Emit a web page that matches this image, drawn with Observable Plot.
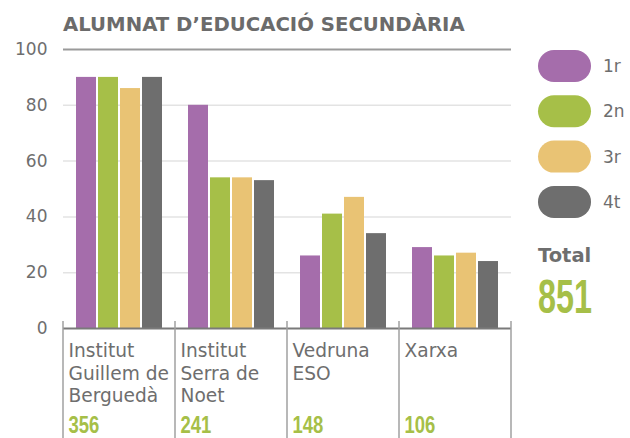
<!DOCTYPE html>
<html><head><meta charset="utf-8">
<script src="https://cdn.jsdelivr.net/npm/d3@7"></script>
<script src="https://cdn.jsdelivr.net/npm/@observablehq/plot@0.6"></script>
<style>
body{margin:0;background:#fff;}
#wrap{position:relative;width:630px;height:438px;overflow:hidden;}
#wrap svg{position:absolute;left:0;top:0;}
</style></head><body><div id="wrap"></div>
<script>
const categories = ["Institut Guillem de Berguedà","Institut Serra de Noet","Vedruna ESO","Xarxa"];
const categoryLabels = ["Institut\nGuillem de\nBerguedà","Institut\nSerra de\nNoet","Vedruna\nESO","Xarxa"];
const years = ["1r","2n","3r","4t"];
const values1r = [90,80,26,29];
const values2n = [90,54,41,26];
const values3r = [86,54,47,27];
const values4t = [90,53,34,24];
const totals = [356,241,148,106];
const grandTotal = 851;
const yTicks = [0,20,40,60,80,100];
const colors = ["#a56dab","#a6bf48","#e9c374","#6e6e6e"];
const title = "ALUMNAT D\u2019EDUCACIÓ SECUNDÀRIA";
const totalLabel = "Total";

const series = [values1r, values2n, values3r, values4t];
const rows = [];
categories.forEach((c, i) => years.forEach((y, j) => rows.push({cat: c, year: y, value: series[j][i]})));
const catRows = categories.map((c, i) => ({cat: c, label: categoryLabels[i], total: totals[i]}));

const textGray = "#6e6e6e";
const green = colors[1];
const numFont = "'Liberation Sans',Arial,sans-serif";

const plot = Plot.plot({
  width: 630, height: 438,
  marginLeft: 63, marginRight: 119, marginTop: 49, marginBottom: 110,
  style: {fontFamily: "DejaVu Sans", fontSize: "17px", color: textGray, background: "transparent"},
  fx: {domain: categories, padding: 0, axis: null, label: null},
  x: {domain: years, paddingInner: 0.07, paddingOuter: 0.55, axis: null},
  y: {domain: [0, 100], axis: null},
  color: {domain: years, range: colors},
  marks: [
    Plot.ruleY(yTicks.filter(t => t > 0 && t < 100), {stroke: "#e3e3e3", strokeWidth: 1.5}),
    Plot.ruleY(yTicks.filter(t => t === 100), {stroke: "#9a9a9a", strokeWidth: 2}),
    Plot.barY(rows, {fx: "cat", x: "year", y: "value", fill: "year"}),
    Plot.ruleY([0], {stroke: "#7a7a7a", strokeWidth: 2}),
    Plot.axisY({ticks: yTicks, tickSize: 0, tickPadding: 16, label: null, fill: textGray, fontSize: 17}),
    Plot.text(catRows, {fx: "cat", text: "label", frameAnchor: "bottom-left", textAnchor: "start", lineAnchor: "top",
      dx: 5, dy: 13, lineHeight: 1.2, fill: textGray, fontSize: 18.6}),
    Plot.text(catRows, {fx: "cat", text: d => String(d.total), frameAnchor: "bottom-left", textAnchor: "start", lineAnchor: "top",
      dx: 5, dy: 87, fill: green, fontSize: 24, fontWeight: "bold", fontFamily: numFont})
  ]
});
document.getElementById("wrap").appendChild(plot);

// condense the total numbers
const totalStrings = new Set(totals.map(String));
d3.select(plot).selectAll("text").each(function() {
  if (!totalStrings.has(this.textContent.trim())) return;
  const t = this.getAttribute("transform");
  if (t) {
    this.setAttribute("transform", t + " scale(0.77,1)");
  } else {
    const x = +(this.getAttribute("x") || 0), y = +(this.getAttribute("y") || 0);
    this.removeAttribute("x"); this.removeAttribute("y");
    this.setAttribute("transform", `translate(${x},${y}) scale(0.77,1)`);
  }
});

// category dividers from the fx scale
const fx = plot.scale("fx");
const edges = categories.map(c => fx.apply(c)).concat([fx.apply(categories[categories.length - 1]) + fx.bandwidth]);
d3.select(plot).append("g").selectAll("line").data(edges).join("line")
  .attr("x1", d => d).attr("x2", d => d).attr("y1", 321).attr("y2", 438)
  .attr("stroke", "#a0a0a0").attr("stroke-width", 1.5);

// overlay: title, legend, total
const ov = d3.select("#wrap").append("svg").attr("width", 630).attr("height", 438);
ov.append("text").attr("x", 63).attr("y", 31).text(title)
  .attr("font-family", "DejaVu Sans").attr("font-weight", "bold").attr("font-size", 19.7).attr("fill", "#6b6b6b");
const lg = ov.append("g").selectAll("g").data(years).join("g")
  .attr("transform", (d, i) => `translate(538,${50 + i * 45.3})`);
lg.append("rect").attr("width", 53).attr("height", 32).attr("rx", 16).attr("fill", (d, i) => colors[i]);
lg.append("text").attr("x", 65).attr("y", 16).attr("dy", "0.36em").text(d => d)
  .attr("font-family", "DejaVu Sans").attr("font-size", 17).attr("fill", textGray);
ov.append("text").attr("x", 538).attr("y", 262).text(totalLabel)
  .attr("font-family", "DejaVu Sans").attr("font-weight", "bold").attr("font-size", 19.5).attr("fill", textGray);
ov.append("text").attr("transform", "translate(538,313) scale(0.66,1)").text(String(grandTotal))
  .attr("font-family", numFont).attr("font-weight", "bold").attr("font-size", 49).attr("fill", green);
</script>
</body></html>
